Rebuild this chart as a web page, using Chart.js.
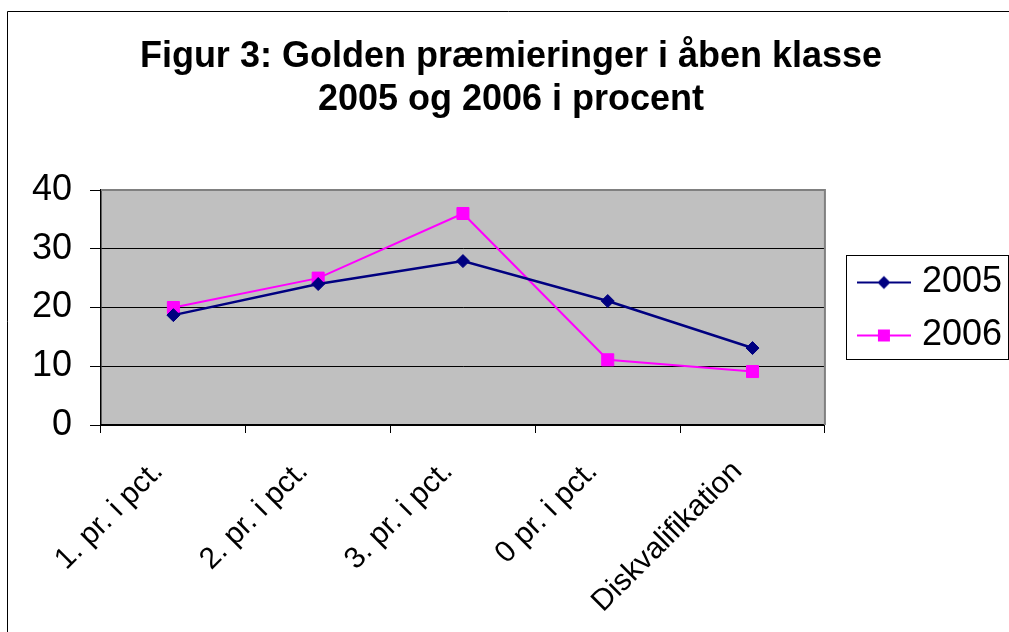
<!DOCTYPE html>
<html><head><meta charset="utf-8">
<script src="https://cdn.jsdelivr.net/npm/chart.js@4.4.1/dist/chart.umd.min.js"></script>
<style>html,body{margin:0;padding:0;background:#fff;}#wrap{width:1009px;height:632px;}</style>
</head><body><div id="wrap"><canvas id="c" width="1009" height="632"></canvas></div>
<script>
const titleLines = ['Figur 3: Golden præmieringer i åben klasse', '2005 og 2006 i procent'];
const categories = ['1. pr. i pct.', '2. pr. i pct.', '3. pr. i pct.', '0 pr. i pct.', 'Diskvalifikation'];
const seriesNames = ['2005', '2006'];
const values2005 = [18.7, 24.0, 27.9, 21.1, 13.1];
const values2006 = [20.0, 25.0, 36.0, 11.1, 9.1];
const yTicks = [0, 10, 20, 30, 40];

const NAVY = '#000080', MAGENTA = '#FF00FF';
const FONT = "'Liberation Sans', Arial, sans-serif";

function legendMarker(color, shape) {
  const cv = document.createElement('canvas');
  cv.width = 54; cv.height = 20;
  const g = cv.getContext('2d');
  g.strokeStyle = color; g.lineWidth = 2;
  g.beginPath(); g.moveTo(0, 10); g.lineTo(54, 10); g.stroke();
  g.fillStyle = color;
  if (shape === 'diamond') {
    g.beginPath(); g.moveTo(27, 3.5); g.lineTo(33.5, 10); g.lineTo(27, 16.5); g.lineTo(20.5, 10); g.closePath(); g.fill();
  } else {
    g.fillRect(21, 4, 12, 12);
  }
  return cv;
}
const legendImages = [legendMarker(NAVY, 'diamond'), legendMarker(MAGENTA, 'square')];

const decor = {
  id: 'decor',
  afterLayout(chart) {
    const lg = chart.legend;
    if (lg) { lg.left += 22; lg.right += 22; lg.top -= 6; lg.bottom -= 6; }
  },
  beforeDraw(chart) {
    const {ctx, width, height} = chart;
    const a = chart.chartArea;
    ctx.save();
    ctx.fillStyle = '#fff';
    ctx.fillRect(0, 0, width, height);
    ctx.strokeStyle = '#000'; ctx.lineWidth = 1;
    ctx.beginPath(); ctx.moveTo(7.5, height); ctx.lineTo(7.5, 11.5); ctx.lineTo(width, 11.5); ctx.stroke();
    ctx.fillStyle = '#C0C0C0';
    ctx.fillRect(a.left, a.top, a.right - a.left, a.bottom - a.top);
    ctx.restore();
  },
  beforeDatasetsDraw(chart) {
    const {ctx} = chart; const a = chart.chartArea;
    ctx.save();
    ctx.strokeStyle = '#808080'; ctx.lineWidth = 2;
    ctx.beginPath(); ctx.moveTo(a.left, a.top); ctx.lineTo(a.right, a.top); ctx.lineTo(a.right, a.bottom); ctx.stroke();
    ctx.restore();
  },
  afterDraw(chart) {
    const hb = chart.legend && chart.legend.legendHitBoxes;
    if (!hb || !hb.length) return;
    const {ctx} = chart;
    const l = hb[0].left - 18, t = hb[0].top - 10;
    const last = hb[hb.length - 1];
    const r = Math.max(...hb.map(h => h.left + h.width)) + 6;
    const b = last.top + last.height + 5;
    ctx.save();
    ctx.strokeStyle = '#000'; ctx.lineWidth = 1;
    ctx.strokeRect(Math.round(l) + 0.5, Math.round(t) + 0.5, Math.round(r - l), Math.round(b - t));
    ctx.restore();
  }
};

new Chart(document.getElementById('c'), {
  type: 'line',
  data: {
    labels: categories,
    datasets: [
      { label: seriesNames[0], data: values2005, borderColor: NAVY, backgroundColor: NAVY, borderWidth: 2.5,
        pointStyle: 'rectRot', pointRadius: 6.5, pointBorderWidth: 1, tension: 0 },
      { label: seriesNames[1], data: values2006, borderColor: MAGENTA, backgroundColor: MAGENTA, borderWidth: 2,
        pointStyle: 'rect', pointRadius: 8.5, pointBorderWidth: 1, tension: 0 }
    ]
  },
  options: {
    responsive: false,
    animation: false,
    layout: { padding: { top: 0, left: 32, right: 19, bottom: 2 } },
    plugins: {
      title: { display: true, text: titleLines, color: '#000',
        font: { family: FONT, size: 36, weight: 'bold', lineHeight: 1.2 },
        padding: { top: 35, bottom: 68.6 } },
      legend: { display: true, position: 'right',
        labels: { color: '#000', font: { family: FONT, size: 36 }, usePointStyle: true, pointStyleWidth: 40,
          boxHeight: 36, padding: 17,
          generateLabels(chart) {
            const items = Chart.defaults.plugins.legend.labels.generateLabels(chart);
            items.forEach((it, i) => { it.pointStyle = legendImages[i]; });
            return items;
          } } },
      tooltip: { enabled: false }
    },
    scales: {
      x: {
        offset: true,
        afterFit(scale) { scale.height = 205; scale.paddingLeft = 0; scale.paddingRight = 0; },
        grid: { offset: true, drawOnChartArea: false, drawTicks: true, tickLength: 8, color: '#000' },
        border: { display: true, color: '#000', width: 2 },
        ticks: { color: '#000', font: { family: FONT, size: 30 }, minRotation: 45, maxRotation: 45,
          autoSkip: false, padding: 21, labelOffset: -15 }
      },
      y: {
        min: 0, max: 40,
        afterBuildTicks(scale) { scale.ticks = yTicks.map(v => ({ value: v })); },
        afterFit(scale) { scale.width = 69; },
        grid: { color: '#000', lineWidth: 1, tickLength: 11, drawTicks: true },
        border: { display: true, color: '#000', width: 1.5 },
        ticks: { color: '#000', font: { family: FONT, size: 36 }, padding: 18 }
      }
    }
  },
  plugins: [decor]
});
</script></body></html>
